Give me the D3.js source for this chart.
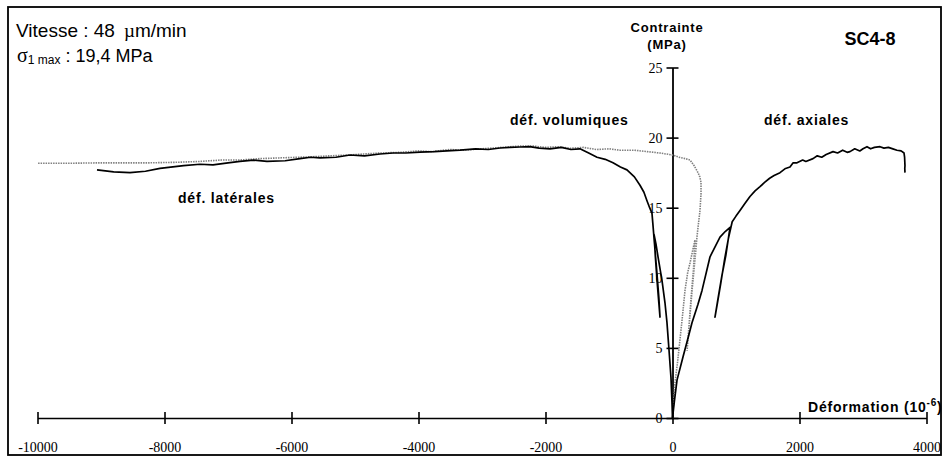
<!DOCTYPE html>
<html>
<head>
<meta charset="utf-8">
<script src="https://cdn.jsdelivr.net/npm/d3@7/dist/d3.min.js"></script>
<style>
  html, body { margin: 0; padding: 0; background: #fff; }
  svg { display: block; }
</style>
</head>
<body>
<svg id="chart" width="949" height="462"></svg>
<script>
// ---------- DATA (strain in 10^-6, stress in MPa) ----------
const xTickValues = [-10000, -8000, -6000, -4000, -2000, 0, 2000, 4000];
const yTickValues = [0, 5, 10, 15, 20, 25];

// axial strain (loading, one unload/reload loop, peak, post-peak drop)
const axial = [
  [0,0],[30,1.2],[71,2.7],[165,4.35],[250,5.8],[307,6.8],[400,8.1],[465,9.1],
  [591,11.5],[680,12.3],[748,12.9],[830,13.3],[906,13.6],
  [840,11.6],[780,10.2],[720,8.6],[669,7.2],
  [700,8.0],[760,9.6],[820,11.3],[880,12.8],[940,14.0],
  [1000,14.4],[1063,14.8],[1140,15.3],[1220,15.8],[1300,16.2],[1378,16.5],
  [1450,16.8],[1530,17.1],[1600,17.3],[1693,17.5],[1780,17.8],[1850,17.9],
  [1900,18.2],[1961,18.2],[2050,18.4],[2100,18.3],[2213,18.5],[2280,18.7],
  [2350,18.6],[2420,18.8],[2528,19.0],[2600,18.9],[2680,19.1],[2750,18.95],
  [2795,19.0],[2870,19.2],[2950,19.05],[3000,19.2],[3063,19.35],[3120,19.2],
  [3180,19.3],[3268,19.35],[3330,19.25],[3400,19.3],[3470,19.2],[3535,19.1],
  [3600,19.05],[3646,18.9],[3655,18.6],[3661,18.0],[3658,17.8],[3661,17.5]
];

// lateral strain
const lateral = [
  [0,0],[-8,1.1],[-24,2.9],[-55,4.85],[-87,6.8],[-118,8.2],[-165,9.8],
  [-228,11.5],[-260,12.4],[-291,13.1],
  [-270,11.5],[-240,9.6],[-215,8.2],[-197,7.2],
  [-215,8.6],[-250,10.6],[-285,12.5],[-310,13.9],
  [-323,14.6],[-360,15.0],[-402,15.5],[-450,16.1],[-512,16.6],[-600,17.2],
  [-717,17.7],[-820,17.9],[-937,18.2],[-1060,18.45],[-1189,18.6],[-1320,18.9],
  [-1457,19.2],[-1600,19.15],[-1750,19.3],[-1929,19.2],[-2100,19.25],
  [-2250,19.35],[-2402,19.33],[-2560,19.3],[-2717,19.26],[-2900,19.15],
  [-3100,19.2],[-3346,19.1],[-3550,19.05],[-3750,19.0],[-3976,18.97],
  [-4200,18.9],[-4400,18.9],[-4606,18.83],[-4850,18.7],[-5079,18.76],
  [-5300,18.6],[-5551,18.55],[-5700,18.6],[-5866,18.5],[-6100,18.35],
  [-6386,18.3],[-6600,18.4],[-6811,18.3],[-7000,18.2],[-7236,18.05],
  [-7441,18.1],[-7700,18.0],[-8071,17.8],[-8300,17.6],[-8543,17.5],
  [-8800,17.55],[-9063,17.7]
];

// volumetric strain
const volumetric = [
  [0,0],[39,2.5],[80,4.0],[118,5.6],[160,7.4],[197,9.1],[240,10.4],
  [276,11.05],[320,12.0],[354,12.7],
  [330,10.6],[290,8.4],[250,6.0],[230,4.8],
  [262,6.6],[310,9.2],[360,11.6],[385,12.9],
  [402,13.6],[433,14.8],[449,16.0],[449,16.8],[430,17.2],[402,17.5],
  [340,18.0],[276,18.4],[200,18.5],[100,18.6],[0,18.76],[-197,18.9],
  [-400,19.0],[-600,19.1],[-827,19.1],[-1000,19.2],[-1200,19.15],
  [-1400,19.3],[-1614,19.24],[-1800,19.35],[-2000,19.3],[-2200,19.4],
  [-2402,19.4],[-2700,19.3],[-3000,19.2],[-3300,19.1],[-3504,19.15],
  [-3800,19.0],[-4000,19.05],[-4291,18.95],[-4600,18.9],[-4800,18.85],
  [-5079,18.76],[-5400,18.7],[-5600,18.65],[-5866,18.6],[-6200,18.55],
  [-6500,18.5],[-6811,18.4],[-7100,18.4],[-7441,18.3],[-7800,18.24],
  [-8228,18.2],[-8600,18.2],[-9016,18.2],[-9500,18.17],[-10000,18.17]
];

// ---------- DRAWING ----------
const svg = d3.select("#chart");
const SANS = "'Liberation Sans', Arial, sans-serif";
const SERIF = "'Liberation Serif', 'Times New Roman', serif";

const x = d3.scaleLinear().domain([-10000, 4000]).range([37.5, 926.5]);
const y = d3.scaleLinear().domain([0, 25]).range([418, 67.5]);

// frame
svg.append("rect")
  .attr("x", 8).attr("y", 7).attr("width", 933).attr("height", 448)
  .attr("fill", "none").attr("stroke", "#000").attr("stroke-width", 1.8);

// x axis
const xAxis = svg.append("g")
  .attr("transform", `translate(0,${y(0)})`)
  .call(d3.axisBottom(x).tickValues(xTickValues).tickSize(6).tickSizeOuter(0)
        .tickFormat(d => String(d)));
xAxis.select(".domain").attr("stroke", "#000").attr("stroke-width", 1.6);
xAxis.selectAll(".tick line").attr("y1", -6).attr("y2", 6)
  .attr("stroke", "#000").attr("stroke-width", 1.6);
xAxis.selectAll(".tick text")
  .attr("y", 24).attr("dy", "0.71em")
  .attr("font-family", SERIF).attr("font-size", 14).attr("fill", "#000");

// y axis
const yAxis = svg.append("g")
  .attr("transform", `translate(${x(0)},0)`)
  .call(d3.axisLeft(y).tickValues(yTickValues).tickSize(6).tickSizeOuter(0)
        .tickFormat(d => String(d)));
yAxis.select(".domain").attr("stroke", "#000").attr("stroke-width", 1.8);
yAxis.selectAll(".tick line").attr("x1", -6).attr("x2", 6)
  .attr("stroke", "#000").attr("stroke-width", 1.6);
yAxis.selectAll(".tick text")
  .attr("x", -10).attr("dy", "0.35em")
  .attr("font-family", SERIF).attr("font-size", 14).attr("fill", "#000");

// curves
const line = d3.line().x(d => x(d[0])).y(d => y(d[1]));

svg.append("path").datum(volumetric)
  .attr("d", line).attr("fill", "none")
  .attr("stroke", "#808080").attr("stroke-width", 1.6)
  .attr("stroke-dasharray", "1.5,1");

svg.append("path").datum(lateral)
  .attr("d", line).attr("fill", "none")
  .attr("stroke", "#000").attr("stroke-width", 1.7)
  .attr("stroke-linejoin", "round");

svg.append("path").datum(axial)
  .attr("d", line).attr("fill", "none")
  .attr("stroke", "#000").attr("stroke-width", 1.7)
  .attr("stroke-linejoin", "round");

// texts
const t1 = svg.append("text").attr("x", 16).attr("y", 37)
  .attr("font-family", SANS).attr("font-size", 19).attr("fill", "#000");
t1.append("tspan").text("Vitesse : 48");
t1.append("tspan").attr("dx", 9).attr("font-family", SERIF).text("µ");
t1.append("tspan").text("m/min");

const t2 = svg.append("text").attr("x", 17).attr("y", 62)
  .attr("font-family", SANS).attr("font-size", 18).attr("fill", "#000");
t2.append("tspan").attr("font-family", SERIF).attr("font-size", 20).text("σ");
t2.append("tspan").attr("font-size", 12).attr("dy", 2).text("1 max");
t2.append("tspan").attr("dy", -2).text(" : 19,4 MPa");

svg.append("text").attr("x", 870).attr("y", 45).attr("text-anchor", "middle")
  .attr("font-family", SANS).attr("font-weight", "bold").attr("font-size", 18)
  .text("SC4-8");

svg.append("text").attr("x", 667).attr("y", 32).attr("text-anchor", "middle")
  .attr("font-family", SANS).attr("font-weight", "bold").attr("font-size", 13)
  .attr("letter-spacing", 0.8).text("Contrainte");
svg.append("text").attr("x", 667).attr("y", 49).attr("text-anchor", "middle")
  .attr("font-family", SANS).attr("font-weight", "bold").attr("font-size", 13)
  .attr("letter-spacing", 0.8).text("(MPa)");

const labelStyle = sel => sel.attr("font-family", SANS).attr("font-weight", "bold")
  .attr("font-size", 14).attr("letter-spacing", 0.8).attr("fill", "#000");

svg.append("text").attr("x", 510).attr("y", 125).call(labelStyle).text("déf. volumiques");
svg.append("text").attr("x", 764).attr("y", 125).call(labelStyle).text("déf. axiales");
svg.append("text").attr("x", 178).attr("y", 203).call(labelStyle).text("déf. latérales");

const xl = svg.append("text").attr("x", 808).attr("y", 412).call(labelStyle);
xl.append("tspan").text("Déformation (10");
xl.append("tspan").attr("font-size", 10).attr("dy", -6).text("-6");
xl.append("tspan").attr("dy", 6).text(")");
</script>
</body>
</html>
